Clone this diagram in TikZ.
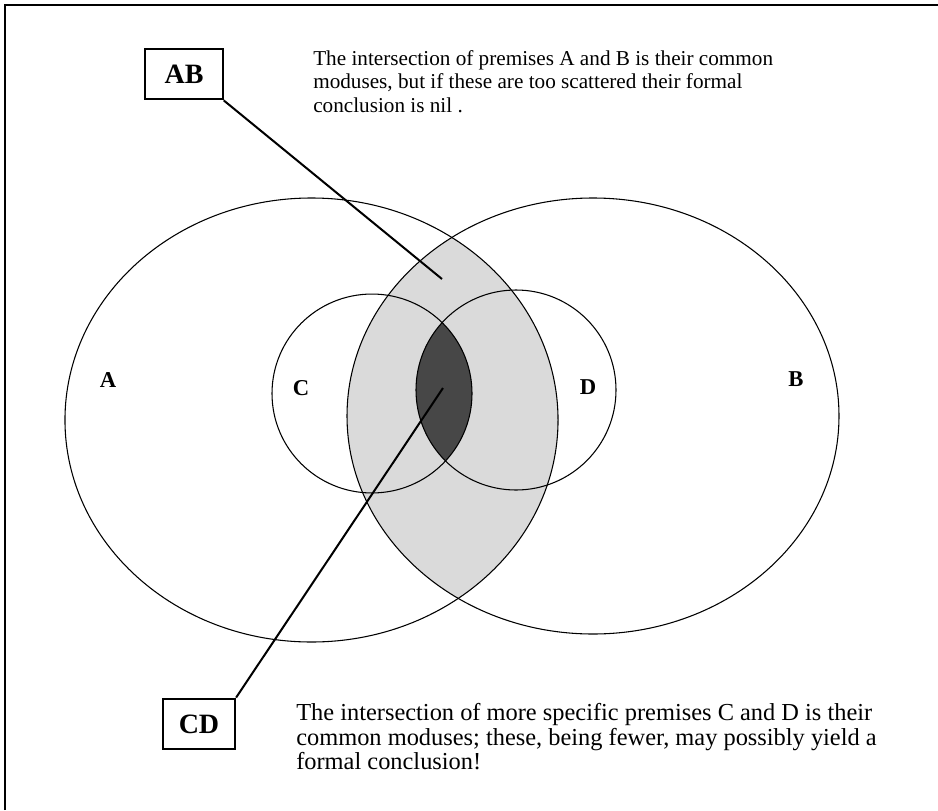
\documentclass[tikz,border=0pt]{standalone}
\usepackage{fontspec}
\setmainfont{Liberation Serif}
\usepackage{tikz}

\tikzset{
  set outline/.style = {draw=black, line width=0.8pt},
  pointer/.style = {draw=black, line width=1.5pt},
  tag box/.style = {shape=rectangle, draw, line width=1.6pt, inner sep=0pt,
    minimum width=58pt, minimum height=38pt, font=\fontsize{21}{25}\selectfont\bfseries},
  set name/.style = {inner sep=0pt, font=\fontsize{17}{20}\selectfont\bfseries},
  note/.style = {inner sep=0pt, align=left, anchor=north west}
}

\begin{document}
\begin{tikzpicture}[x=0.75pt, y=-0.75pt]
  \useasboundingbox (0,0) rectangle (938,810);
  % frame
  \draw[line width=1.5pt] (5,810) -- (5,5) -- (938,5);

  % A and B overlap
  \begin{scope}
    \clip (311.5,420) ellipse [x radius=184.9pt, y radius=166.5pt];
    \fill[fill={rgb,255:red,218;green,218;blue,218}] (593,416) ellipse [x radius=184.5pt, y radius=163.5pt];
  \end{scope}
  % C and D overlap
  \begin{scope}
    \clip (372,393.5) ellipse [x radius=75pt, y radius=74.6pt];
    \fill[fill={rgb,255:red,71;green,71;blue,71}] (516,390) ellipse [x radius=75pt, y radius=75pt];
  \end{scope}

  % the four sets
  \draw[set outline] (311.5,420) ellipse [x radius=184.9pt, y radius=166.5pt];
  \draw[set outline] (593,416) ellipse [x radius=184.5pt, y radius=163.5pt];
  \draw[set outline] (372,393.5) ellipse [x radius=75pt, y radius=74.6pt];
  \draw[set outline] (516,390) ellipse [x radius=75pt, y radius=75pt];

  \node[set name] (setA) at (108,380) {A};
  \node[set name] (setB) at (796,379) {B};
  \node[set name] (setC) at (301,388) {C};
  \node[set name] (setD) at (588,387) {D};

  % tags and pointers
  \node[tag box] (AB) at (184,74) {AB};
  \node[tag box, minimum width=54pt] (CD) at (199,724) {CD};
  \coordinate (ABpt) at (442,279);
  \coordinate (CDpt) at (443,388);
  \draw[pointer] (AB.south east) -- (ABpt);
  \draw[pointer] (CD.north east) -- (CDpt);

  % notes
  \node[note, font=\fontsize{15.9}{17.6}\selectfont] (ABnote) at (313,50)
    {The intersection of premises A and B is their common\\
    moduses, but if these are too scattered their formal\\
    conclusion is nil .};
  \node[note, font=\fontsize{18.3}{18.5}\selectfont] (CDnote) at (296,703)
    {The intersection of more specific premises C and D is their\\
    common moduses; these, being fewer, may possibly yield a\\
    formal conclusion!};
\end{tikzpicture}
\end{document}
